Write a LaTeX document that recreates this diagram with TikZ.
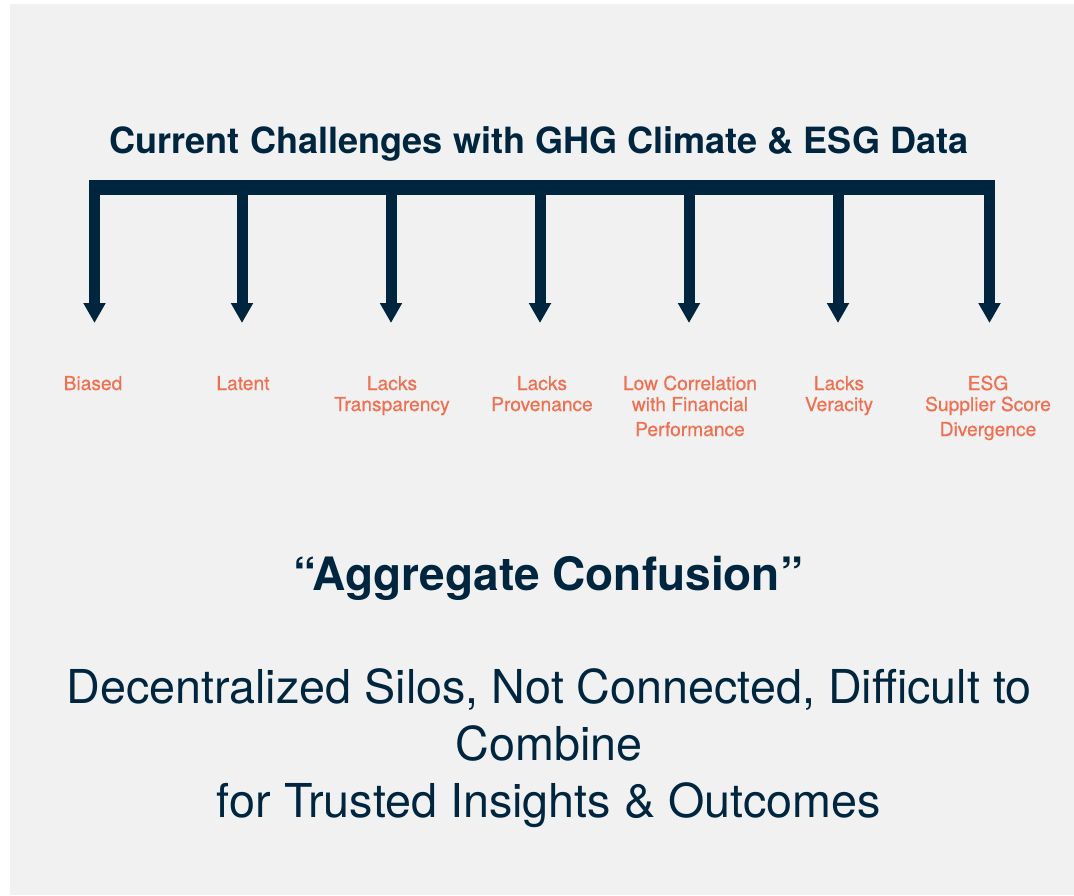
\documentclass[tikz,border=0pt]{standalone}
\usepackage{fontspec}
\setmainfont{TeX Gyre Heros}
\newfontfamily\medfont[FakeBold=0.5]{TeX Gyre Heros}
\usetikzlibrary{arrows.meta}
\definecolor{navy}{HTML}{00263F}
\definecolor{accent}{HTML}{EF7050}
\definecolor{bggray}{HTML}{F1F1F1}
\tikzset{
  challenge/.style={text=accent, font=\medfont\fontsize{19.2}{21}\selectfont, anchor=base, inner sep=0pt},
  downarrow/.style={draw=navy, line width=11pt, -{Triangle[width=21pt,length=20pt]}},
  bottomline/.style={text=navy, font=\fontsize{46.7}{57}\selectfont, anchor=base, inner sep=0pt},
}
\begin{document}
\begin{tikzpicture}[x=1pt,y=-1pt]
\fill[white] (0,0) rectangle (1074,895);
\fill[bggray] (10,4) rectangle (1074,895);
\useasboundingbox (0,0) rectangle (1074,895);

\node[text=navy, font=\fontsize{36.1}{40}\selectfont\bfseries, anchor=base, inner sep=0pt] (title) at (539,153) {Current Challenges with GHG Climate \& ESG Data};

% bar
\coordinate (barL) at (89,187.5);
\coordinate (barR) at (995,187.5);
\draw[navy, line width=15pt] (barL) -- (barR);

\foreach \i/\x in {1/94.5,2/242,3/391,4/540,5/689,6/838,7/989.5}{
  \coordinate (t\i) at (\x,187.5);
  \coordinate (h\i) at (\x,323);
  \draw[downarrow] (t\i) -- (h\i);
}

\node[challenge] (l1) at (93,390) {Biased};
\node[challenge] (l2) at (243,390) {Latent};
\node[challenge] (l3a) at (392,390) {Lacks};
\node[challenge] (l3b) at (392,411) {Transparency};
\node[challenge] (l4a) at (542,390) {Lacks};
\node[challenge] (l4b) at (542,411) {Provenance};
\node[challenge] (l5a) at (690,390) {Low Correlation};
\node[challenge] (l5b) at (690,411) {with Financial};
\node[challenge] (l5c) at (690,436) {Performance};
\node[challenge] (l6a) at (839,390) {Lacks};
\node[challenge] (l6b) at (839,411) {Veracity};
\node[challenge] (l7a) at (988,390) {ESG};
\node[challenge] (l7b) at (988,411) {Supplier Score};
\node[challenge] (l7c) at (988,436) {Divergence};

\node[text=navy, font=\fontsize{46}{50}\selectfont\bfseries, anchor=base, inner sep=0pt] (agg) at (548,590) {“Aggregate Confusion”};

\node[bottomline] (b1) at (549,703) {Decentralized Silos, Not Connected, Difficult to};
\node[bottomline] (b2) at (549,760) {Combine};
\node[bottomline] (b3) at (549,817) {for Trusted Insights \& Outcomes};
\end{tikzpicture}
\end{document}
